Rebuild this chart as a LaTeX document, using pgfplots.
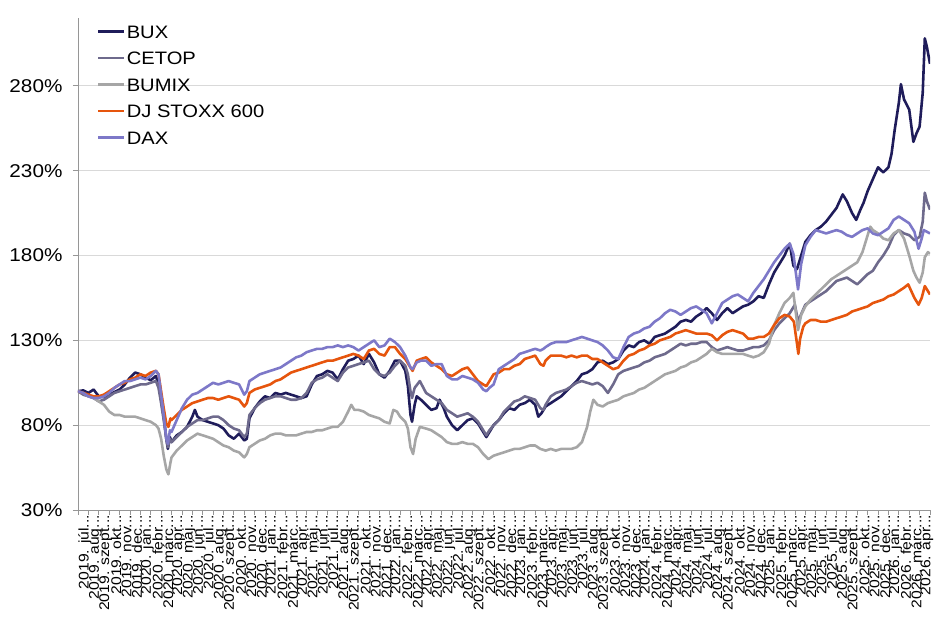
\documentclass[border=0pt]{standalone}
\usepackage{fontspec}
\setmainfont[FakeStretch=1.12]{Liberation Sans}
\usepackage{pgfplots}
\pgfplotsset{compat=1.18}
\newcommand{\td}{.{}.{}.}
\definecolor{cBUX}{RGB}{31,28,90}
\definecolor{cCETOP}{RGB}{110,106,140}
\definecolor{cBUMIX}{RGB}{166,166,166}
\definecolor{cSTOXX}{RGB}{230,85,13}
\definecolor{cDAX}{RGB}{125,120,200}
\definecolor{cGrid}{RGB}{217,217,217}
\definecolor{cAxis}{RGB}{150,150,150}
\begin{document}
\begin{tikzpicture}
\useasboundingbox (-78pt,-107pt) rectangle (867pt,510pt);
\begin{axis}[
  at={(0pt,0pt)}, anchor=south west,
  scale only axis, width=852pt, height=492pt,
  xmin=0, xmax=82, ymin=30, ymax=320,
  axis x line=bottom, axis y line=left,
  axis line style={-, draw=cAxis, line width=0.8pt},
  ytick={30,80,130,180,230,280},
  yticklabels={30\%,80\%,130\%,180\%,230\%,280\%},
  ymajorgrids, grid style={cGrid, line width=0.8pt},
  xtick={0,...,82},
  xticklabels={2019. júl\td,2019. aug\td,2019. szept\td,2019. okt\td,2019. nov\td,2019. dec\td,
  2020. jan\td,2020. febr\td,2020. márc\td,2020. ápr\td,2020. máj\td,2020. jún\td,2020. júl\td,2020. aug\td,2020. szept\td,2020. okt\td,2020. nov\td,2020. dec\td,
  2021. jan\td,2021. febr\td,2021. márc\td,2021. ápr\td,2021. máj\td,2021. jún\td,2021. júl\td,2021. aug\td,2021. szept\td,2021. okt\td,2021. nov\td,2021. dec\td,
  2022. jan\td,2022. febr\td,2022. márc\td,2022. ápr\td,2022. máj\td,2022. jún\td,2022. júl\td,2022. aug\td,2022. szept\td,2022. okt\td,2022. nov\td,2022. dec\td,
  2023. jan\td,2023. febr\td,2023. márc\td,2023. ápr\td,2023. máj\td,2023. jún\td,2023. júl\td,2023. aug\td,2023. szept\td,2023. okt\td,2023. nov\td,2023. dec\td,
  2024. jan\td,2024. febr\td,2024. márc\td,2024. ápr\td,2024. máj\td,2024. jún\td,2024. júl\td,2024. aug\td,2024. szept\td,2024. okt\td,2024. nov\td,2024. dec\td,
  2025. jan\td,2025. febr\td,2025. márc\td,2025. ápr\td,2025. máj\td,2025. jún\td,2025. júl\td,2025. aug\td,2025. szept\td,2025. okt\td,2025. nov\td,2025. dec\td,
  2026. jan\td,2026. febr\td,2026. márc\td,2026. ápr\td,{}},
  tick align=outside, major tick length=5pt,
  tick style={draw=cAxis, line width=0.8pt},
  yticklabel style={font=\fontsize{18.5}{18.5}\selectfont, xshift=-7pt},
  xticklabel style={font=\fontsize{14}{14}\selectfont, rotate=90, anchor=east, inner sep=0pt, xshift=0pt, yshift=-7pt},
  every axis plot/.append style={line width=2.6pt, line join=round},
  legend style={draw=none, fill=none, at={(0,1)}, anchor=north west, xshift=19pt, yshift=-6pt,
     font=\fontsize{18}{18}\selectfont, row sep=11.5pt, inner sep=0pt,
     nodes={inner sep=1pt, text height=13pt, text depth=0pt}},
  legend cell align=left,
  legend image code/.code={\draw[#1, line width=2.6pt] (-1pt,0pt) -- (25pt,0pt);},
]
\addplot[cBUX] coordinates {(0,100)(0.5,100.5)(1,99)(1.5,101)(2,97)(2.5,96.5)(3,98)(3.5,99.5)(4,101)(4.5,104)(5,108)(5.5,111)(6,110)(6.5,108)(7,106.5)(7.5,109)(7.75,104)(8,95)(8.25,85)(8.5,72)(8.65,66)(8.85,73)(9,70)(9.5,74)(10,76)(10.5,79)(11,85)(11.25,89)(11.5,85)(12,83)(12.5,82)(13,81)(13.5,80)(14,78)(14.5,74)(15,72)(15.5,75)(16,71)(16.25,72)(16.5,84)(17,90)(17.5,94)(18,97)(18.5,96)(19,99)(19.5,98)(20,99)(20.5,98)(21,97)(21.5,96)(22,97)(22.5,104)(23,109)(23.5,110)(24,112)(24.5,111)(25,107)(25.5,113)(26,118)(26.5,119)(27,121)(27.5,116)(28,122)(28.5,117)(29,110)(29.5,108)(30,112)(30.5,118)(31,118)(31.5,112)(31.75,103)(32,86)(32.15,82)(32.4,92)(32.6,97)(33,95)(33.5,92)(34,89)(34.5,90)(34.8,95)(35.2,90)(35.5,85)(36,80)(36.5,77)(37,80)(37.5,83)(38,84)(38.5,81)(39,76)(39.3,73)(39.6,76)(40,80)(40.5,83)(41,87)(41.5,90)(42,89)(42.5,92)(43,93)(43.5,95)(44,92)(44.3,85)(44.6,87)(45,91)(45.5,93)(46,95)(46.5,97)(47,100)(47.5,103)(48,106)(48.5,110)(49,111)(49.5,113)(50,117)(50.5,118)(51,116)(51.5,117)(52,119)(52.5,124)(53,127)(53.5,126)(54,129)(54.5,130)(55,128)(55.5,132)(56,133)(56.5,134)(57,136)(57.5,138)(58,141)(58.5,142)(59,141)(59.5,144)(60,146)(60.5,149)(61,146)(61.5,142)(62,146)(62.5,149)(63,146)(63.5,148)(64,150)(64.5,151)(65,153)(65.5,156)(66,155)(66.5,163)(67,170)(67.5,175)(68,180)(68.5,187)(68.85,174)(69.2,172)(69.5,178)(70,188)(70.5,192)(71,195)(71.5,197)(72,200)(72.5,204)(73,208)(73.6,216)(74,212)(74.5,205)(74.9,201)(75.3,207)(75.6,211)(76,218)(76.5,225)(77,232)(77.5,229)(78,232)(78.3,240)(78.6,254)(79,270)(79.2,281)(79.5,272)(80,266)(80.4,247)(80.7,252)(81,256)(81.3,276)(81.5,308)(81.7,303)(81.85,298)(82,293)};
\addlegendentry{BUX}
\addplot[cCETOP] coordinates {(0,100)(0.5,98)(1,97)(1.5,96)(2,94)(2.5,95)(3,97)(3.5,99)(4,100)(4.5,101)(5,102)(5.5,103)(6,104)(6.5,104)(7,105)(7.5,106)(7.75,102)(8,93)(8.25,83)(8.5,72)(8.65,67)(8.85,72)(9,70)(9.5,73)(10,76)(10.5,79)(11,81)(11.5,83)(12,83)(12.5,84)(13,85)(13.5,85)(14,83)(14.5,80)(15,78)(15.5,77)(16,73)(16.25,75)(16.5,86)(17,90)(17.5,93)(18,95)(18.5,96)(19,97)(19.5,97)(20,96)(20.5,95)(21,95)(21.5,96)(22,99)(22.5,105)(23,107)(23.5,108)(24,110)(24.5,108)(25,106)(25.5,111)(26,114)(26.5,115)(27,116)(27.5,117)(28,118)(28.5,113)(29,110)(29.5,109)(30,111)(30.5,115)(31,118)(31.5,115)(31.75,110)(32,100)(32.15,96)(32.4,102)(32.9,106)(33.5,99)(34,97)(34.5,95)(35,93)(35.5,89)(36,87)(36.5,85)(37,86)(37.5,87)(38,85)(38.5,82)(39,77)(39.3,74)(39.6,77)(40,80)(40.5,83)(41,88)(41.5,91)(42,94)(42.5,95)(43,97)(43.5,96)(44,95)(44.5,90)(44.8,89)(45,92)(45.5,97)(46,99)(46.5,100)(47,101)(47.5,103)(48,105)(48.5,106)(49,105)(49.5,104)(50,105)(50.5,103)(51,99)(51.5,104)(52,110)(52.5,112)(53,113)(53.5,114)(54,115)(54.5,117)(55,118)(55.5,120)(56,121)(56.5,122)(57,124)(57.5,126)(58,128)(58.5,127)(59,128)(59.5,128)(60,129)(60.5,129)(61,126)(61.5,124)(62,125)(62.5,126)(63,125)(63.5,124)(64,124)(64.5,125)(65,126)(65.5,126)(66,127)(66.5,130)(67,136)(67.5,140)(68,143)(68.5,146)(69,151)(69.3,141)(69.5,144)(70,151)(70.5,153)(71,155)(71.5,157)(72,159)(72.5,162)(73,165)(73.5,166)(74,167)(74.5,165)(75,163)(75.5,166)(76,169)(76.5,171)(77,176)(77.5,180)(78,185)(78.5,192)(79,195)(79.5,193)(80,192)(80.5,189)(81,191)(81.3,200)(81.5,217)(81.7,212)(82,207)};
\addlegendentry{CETOP}
\addplot[cBUMIX] coordinates {(0,100)(0.5,99)(1,97)(1.5,96)(2,94)(2.5,92)(3,88)(3.5,86)(4,86)(4.5,85)(5,85)(5.5,85)(6,84)(6.5,83)(7,82)(7.5,80)(7.75,78)(8,72)(8.25,62)(8.5,54)(8.7,51)(8.9,58)(9,61)(9.5,65)(10,68)(10.5,71)(11,73)(11.5,75)(12,74)(12.5,73)(13,72)(13.5,70)(14,68)(14.5,67)(15,65)(15.5,64)(16,61)(16.25,63)(16.5,67)(17,69)(17.5,71)(18,72)(18.5,74)(19,75)(19.5,75)(20,74)(20.5,74)(21,74)(21.5,75)(22,76)(22.5,76)(23,77)(23.5,77)(24,78)(24.5,79)(25,79)(25.5,82)(26,88)(26.3,92)(26.6,89)(27,89)(27.5,88)(28,86)(28.5,85)(29,84)(29.5,82)(30,81)(30.35,89)(30.7,88)(31,85)(31.5,82)(31.75,78)(32,67)(32.25,63)(32.5,72)(32.9,79)(33.5,78)(34,77)(34.5,75)(35,73)(35.5,70)(36,69)(36.5,69)(37,70)(37.5,69)(38,69)(38.5,67)(39,63)(39.5,60)(40,62)(40.5,63)(41,64)(41.5,65)(42,66)(42.5,66)(43,67)(43.5,68)(44,68)(44.5,66)(45,65)(45.5,66)(46,65)(46.5,66)(47,66)(47.5,66)(48,67)(48.5,70)(49,79)(49.3,88)(49.6,95)(50,92)(50.5,91)(51,93)(51.5,94)(52,95)(52.5,97)(53,98)(53.5,99)(54,101)(54.5,102)(55,104)(55.5,106)(56,108)(56.5,110)(57,111)(57.5,112)(58,114)(58.5,115)(59,117)(59.5,118)(60,120)(60.5,122)(61,125)(61.5,123)(62,122)(62.5,122)(63,122)(63.5,122)(64,122)(64.5,121)(65,120)(65.5,121)(66,123)(66.5,128)(67,139)(67.5,146)(68,152)(68.5,155)(68.85,158)(69.3,136)(69.6,145)(70,150)(70.5,154)(71,157)(71.5,160)(72,163)(72.5,166)(73,168)(73.5,170)(74,172)(74.5,174)(75,176)(75.5,182)(76,192)(76.25,197)(76.5,195)(77,193)(77.5,190)(78,189)(78.5,193)(79,195)(79.5,190)(80,180)(80.4,171)(80.7,167)(81,164)(81.3,170)(81.5,179)(81.8,182)(82,181)};
\addlegendentry{BUMIX}
\addplot[cSTOXX] coordinates {(0,100)(0.5,99)(1,98)(1.5,97)(2,97)(2.5,98)(3,100)(3.5,102)(4,104)(4.5,105)(5,107)(5.5,108)(6,110)(6.5,109)(7,111)(7.5,112)(7.75,110)(8,100)(8.25,90)(8.5,81)(8.7,79)(8.9,84)(9,83)(9.5,86)(10,89)(10.5,91)(11,93)(11.5,94)(12,95)(12.5,96)(13,96)(13.5,95)(14,96)(14.5,97)(15,96)(15.5,95)(16,91)(16.25,93)(16.5,99)(17,101)(17.5,102)(18,103)(18.5,104)(19,106)(19.5,107)(20,109)(20.5,111)(21,112)(21.5,113)(22,114)(22.5,115)(23,116)(23.5,117)(24,118)(24.5,118)(25,119)(25.5,120)(26,121)(26.5,122)(27,121)(27.5,119)(28,124)(28.5,125)(29,122)(29.5,121)(30,126)(30.5,126)(31,122)(31.5,119)(32,114)(32.2,112)(32.6,118)(33,119)(33.5,120)(34,117)(34.5,115)(35,113)(35.5,110)(36,109)(36.5,111)(37,113)(37.5,114)(38,110)(38.5,106)(39,104)(39.3,103)(39.6,106)(40,110)(40.5,111)(41,113)(41.5,113)(42,115)(42.5,116)(43,119)(43.5,120)(44,121)(44.5,116)(44.8,115)(45,118)(45.5,121)(46,121)(46.5,121)(47,120)(47.5,121)(48,120)(48.5,121)(49,121)(49.5,119)(50,119)(50.5,117)(51,115)(51.5,113)(52,114)(52.5,118)(53,121)(53.5,122)(54,124)(54.5,125)(55,127)(55.5,128)(56,130)(56.5,131)(57,132)(57.5,134)(58,135)(58.5,136)(59,135)(59.5,134)(60,134)(60.5,134)(61,133)(61.5,130)(62,133)(62.5,135)(63,136)(63.5,135)(64,134)(64.5,131)(65,131)(65.5,132)(66,132)(66.5,134)(67,139)(67.5,143)(68,145)(68.5,144)(68.9,141)(69.2,128)(69.33,122)(69.5,131)(69.8,138)(70,140)(70.5,142)(71,142)(71.5,141)(72,141)(72.5,142)(73,143)(73.5,144)(74,145)(74.5,147)(75,148)(75.5,149)(76,150)(76.5,152)(77,153)(77.5,154)(78,156)(78.5,157)(79,159)(79.5,161)(79.9,163)(80.2,159)(80.5,155)(80.9,151)(81.2,155)(81.5,162)(81.8,159)(82,157)};
\addlegendentry{DJ STOXX 600}
\addplot[cDAX] coordinates {(0,100)(0.5,99)(1,97)(1.5,96)(2,96)(2.5,97)(3,99)(3.5,102)(4,104)(4.5,106)(5,106)(5.5,107)(6,108)(6.5,107)(7,109)(7.5,112)(7.75,110)(8,98)(8.25,86)(8.5,72)(8.65,69)(8.85,77)(9,76)(9.5,83)(10,90)(10.5,95)(11,98)(11.5,99)(12,101)(12.5,103)(13,105)(13.5,104)(14,105)(14.5,106)(15,105)(15.5,104)(16,98)(16.25,100)(16.5,106)(17,108)(17.5,110)(18,111)(18.5,112)(19,113)(19.5,114)(20,116)(20.5,118)(21,120)(21.5,121)(22,123)(22.5,124)(23,125)(23.5,125)(24,126)(24.5,126)(25,127)(25.5,126)(26,127)(26.5,126)(27,124)(27.5,126)(28,128)(28.5,130)(29,126)(29.5,127)(30,131)(30.5,129)(31,126)(31.5,121)(32,114)(32.2,113)(32.6,117)(33,118)(33.5,118)(34,115)(34.5,116)(35,116)(35.5,109)(36,107)(36.5,107)(37,109)(37.5,108)(38,107)(38.5,105)(39,101)(39.3,100)(39.6,102)(40,104)(40.5,113)(41,115)(41.5,117)(42,119)(42.5,122)(43,123)(43.5,124)(44,125)(44.5,124)(44.8,125)(45,126)(45.5,128)(46,129)(46.5,129)(47,129)(47.5,130)(48,131)(48.5,132)(49,131)(49.5,130)(50,129)(50.5,127)(51,124)(51.5,120)(52,119)(52.5,126)(53,132)(53.5,134)(54,135)(54.5,137)(55,138)(55.5,141)(56,143)(56.5,146)(57,148)(57.5,147)(58,145)(58.5,147)(59,149)(59.5,150)(60,148)(60.5,146)(61,140)(61.5,146)(62,152)(62.5,154)(63,156)(63.5,157)(64,155)(64.5,153)(65,158)(65.5,162)(66,166)(66.5,171)(67,176)(67.5,180)(68,184)(68.5,187)(68.85,181)(69.3,160)(69.6,175)(70,186)(70.5,191)(71,195)(71.5,194)(72,193)(72.5,194)(73,195)(73.5,194)(74,192)(74.5,191)(75,193)(75.5,195)(76,196)(76.5,193)(77,192)(77.5,194)(78,196)(78.5,201)(79,203)(79.5,201)(80,199)(80.5,194)(80.9,184)(81.2,190)(81.4,195)(81.7,194)(82,193)};
\addlegendentry{DAX}
\end{axis}
\end{tikzpicture}
\end{document}
